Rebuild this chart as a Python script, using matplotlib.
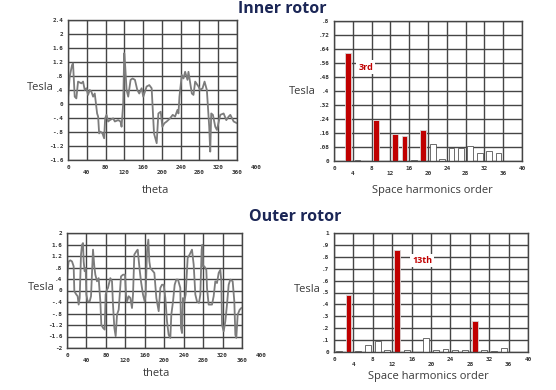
import matplotlib
matplotlib.use("Agg")
import matplotlib.pyplot as plt
import numpy as np

# ---- data ----
# inner rotor flux density waveform (deg, Tesla)
inner_theta = [0, 3.6, 5.7, 8.6, 10.7, 14.3, 17.8, 21.4, 28.5, 32.1, 35.6, 39.2, 42.8, 46.3,
               49.9, 53.5, 57.0, 62.0, 64.2, 66.3, 69.2, 73.4, 77.0, 79.1, 82.0, 85.5, 89.1,
               96.2, 99.8, 106.9, 111.9, 114.1, 117.6, 119.8, 121.9, 124.8, 128.3, 133.3,
               137.6, 142.6, 147.6, 151.8, 156.8, 160.4, 167.5, 173.2, 178.2, 183.2, 188.9,
               192.5, 197.5, 201.0, 205.3, 210.3, 217.4, 223.1, 228.1, 233.1, 235.3, 237.4,
               242.4, 246.0, 249.5, 254.5, 256.6, 263.8, 267.3, 270.9, 278.0, 281.6, 286.6,
               290.9, 295.8, 300.8, 303.0, 305.1, 308.7, 313.7, 317.2, 324.4, 331.5, 337.2,
               342.2, 345.8, 352.9, 360.0]
inner_b = [0.16, 0.78, 0.92, 1.11, 1.16, 0.21, 0.16, 0.64, 0.59, 0.64, 0.40, 0.45, 0.26, 0.40,
           0.35, 0.21, 0.30, -0.27, -0.36, -0.84, -0.79, -0.84, -0.98, -0.41, -0.31, -0.50,
           -0.46, -0.41, -0.50, -0.46, -0.50, -0.65, 0.02, 1.45, 1.07, 0.40, 0.21, 0.69, 0.73,
           0.69, 0.40, 0.30, 0.45, 0.21, 0.50, 0.54, 0.45, -0.84, -1.12, -0.27, -0.22, -0.65,
           -0.55, -0.50, -0.41, -0.31, -0.36, -0.17, -0.27, 0.21, 0.83, 0.73, 0.92, 0.69, 0.92,
           0.30, 0.26, 0.64, 0.50, 0.40, 0.45, 0.64, 0.40, -0.65, -1.36, -0.27, -0.31, -0.65,
           -0.74, -0.31, -0.27, -0.46, -0.36, -0.31, -0.50, -0.55]

# outer rotor flux density waveform (deg, Tesla)
outer_theta = [0, 1.4, 3.4, 6.9, 10.3, 13.7, 15.1, 19.2, 21.9, 24.0, 26.1, 28.8, 30.9, 32.9,
               34.3, 36.3, 38.4, 39.8, 42.5, 46.6, 49.4, 53.5, 56.2, 58.3, 61.7, 65.1, 68.6,
               70.6, 74.1, 77.5, 79.5, 82.3, 84.3, 89.1, 92.6, 94.6, 97.4, 100.1, 102.9, 106.3,
               111.1, 115.2, 119.3, 121.4, 123.4, 126.9, 130.3, 133.7, 135.8, 138.5, 142.6,
               145.4, 149.5, 152.2, 156.3, 159.8, 161.8, 164.6, 167.3, 169.4, 171.4, 176.9,
               179.7, 183.8, 188.6, 192.0, 195.4, 198.9, 202.3, 205.7, 209.1, 212.6, 214.6,
               218.1, 221.5, 224.9, 228.3, 233.1, 234.5, 236.6, 238.6, 241.4, 244.1, 248.2,
               252.3, 257.1, 260.6, 264.0, 267.4, 271.5, 274.3, 277.0, 278.4, 279.8, 282.5,
               286.6, 288.0, 291.4, 298.3, 301.7, 305.1, 308.6, 312.0, 315.4, 317.5, 318.9,
               322.3, 325.7, 329.1, 332.6, 336.0, 340.8, 344.2, 346.3, 348.3, 351.1, 355.2, 358.6]
outer_b = [0.32, 0.72, 1.01, 1.05, 1.01, 0.84, -0.03, -0.14, -0.20, -0.49, -0.26, 1.25, 1.59,
           1.65, 1.01, 0.67, 0.78, -0.14, -0.38, -0.38, -0.20, 1.42, 0.84, 0.55, 0.32, 0.43,
           -0.38, -1.19, -1.30, -1.36, -0.14, 0.03, 0.09, 0.43, 0.32, -0.49, -1.30, -1.59,
           -0.84, -0.67, 0.49, 0.55, 0.55, -0.14, -0.38, -0.20, -0.26, -0.61, -0.14, 1.25,
           1.36, 1.42, 0.72, 0.32, -0.14, -0.38, -0.14, 1.36, 1.77, 1.01, 0.78, 0.67, 0.61,
           -0.26, -0.72, 0.09, 0.20, 0.20, -0.26, -1.07, -1.54, -1.65, -0.84, -0.38, 0.20,
           0.38, 0.38, 0.09, -1.30, -1.48, -0.26, -0.38, -0.14, 1.13, 1.25, 1.42, 0.90, -0.14,
           -0.38, -0.43, -0.14, 1.42, 1.59, 0.84, 0.84, 0.72, 0.09, -0.49, -0.49, -0.20, 0.32,
           0.26, 0.61, 0.72, 0.32, -1.19, -1.42, -1.07, -0.49, 0.20, 0.38, 0.32, -0.38, -1.54,
           -1.65, -0.84, -0.67, -0.61]

# space harmonic spectra (odd orders)
orders = [1, 3, 5, 7, 9, 11, 13, 15, 17, 19, 21, 23, 25, 27, 29, 31, 33, 35]
inner_amp = [0.002, 0.615, 0.008, 0.002, 0.237, 0.002, 0.157, 0.143, 0.008, 0.176,
             0.10, 0.013, 0.072, 0.075, 0.085, 0.045, 0.055, 0.047]
inner_red = [3, 9, 13, 15, 19]
outer_amp = [0.005, 0.48, 0.005, 0.056, 0.09, 0.014, 0.86, 0.02, 0.003, 0.118,
             0.02, 0.028, 0.02, 0.02, 0.26, 0.015, 0.012, 0.034]
outer_red = [3, 13, 29]

theta_ticks = [0, 40, 80, 120, 160, 200, 240, 280, 320, 360]
inner_wave_yticks = [-1.6, -1.2, -0.8, -0.4, 0, 0.4, 0.8, 1.2, 1.6, 2, 2.4]
outer_wave_yticks = [-2, -1.6, -1.2, -0.8, -0.4, 0, 0.4, 0.8, 1.2, 1.6, 2]
order_ticks = [0, 4, 8, 12, 16, 20, 24, 28, 32, 36, 40]
inner_spec_yticks = [0, 0.08, 0.16, 0.24, 0.32, 0.4, 0.48, 0.56, 0.64, 0.72, 0.8]
outer_spec_yticks = [0, 0.1, 0.2, 0.3, 0.4, 0.5, 0.6, 0.7, 0.8, 0.9, 1.0]

# ---- styles ----
W, H = 556, 390
GRID_C = "#454545"
TICK_FONT = dict(family="DejaVu Sans Mono", weight="bold", size=4.3, color="#333333")
LABEL_FONT = dict(family="Open Sans", size=8, color="#3a3a3a")
TITLE_C = "#1b2656"
RED = "#c00000"
LINE_C = "#7c7c7c"
PAD = 3.5


def fmt(v):
    s = ("%g" % v)
    if s.startswith("0."):
        s = s[1:]
    elif s.startswith("-0."):
        s = "-" + s[2:]
    return s


def make_axes(fig, left, right, top, bottom):
    ax = fig.add_axes([left / W, 1 - bottom / H, (right - left) / W, (bottom - top) / H])
    ax.grid(True, color=GRID_C, lw=1.0)
    ax.set_axisbelow(True)
    for s in ax.spines.values():
        s.set_color(GRID_C)
        s.set_linewidth(1.0)
    ax.tick_params(length=0, pad=PAD)
    return ax


def set_ticks(ax, xt, yt, xlim, ylim):
    ax.set_xlim(*xlim)
    ax.set_ylim(*ylim)
    ax.set_xticks(xt)
    # staggered x labels: every other one pushed to a second row
    ax.set_xticklabels([fmt(v) if i % 2 == 0 else "\n" + fmt(v) for i, v in enumerate(xt)],
                       fontdict=TICK_FONT, linespacing=1.1)
    ax.set_yticks(yt)
    ax.set_yticklabels([fmt(v) for v in yt], fontdict=TICK_FONT)


fig = plt.figure(figsize=(W / 100, H / 100), dpi=100)

# inner rotor waveform
ax1 = make_axes(fig, 68, 237, 20, 160)
ax1.plot(inner_theta, inner_b, color=LINE_C, lw=1.3)
set_ticks(ax1, theta_ticks, inner_wave_yticks, (0, 360), (-1.6, 2.4))
ax1.annotate("400", xy=(400, 0), xycoords=("data", "axes fraction"), xytext=(0, -PAD),
             textcoords="offset points", ha="center", va="top", annotation_clip=False, **TICK_FONT)

# inner rotor spectrum
ax2 = make_axes(fig, 334, 522, 21, 161)
ax2.bar(orders, inner_amp, width=1.2,
        color=[RED if o in inner_red else "white" for o in orders],
        edgecolor=["#d8d8d8" if o in inner_red else "#555555" for o in orders], lw=0.6)
set_ticks(ax2, order_ticks, inner_spec_yticks, (0, 40), (0, 0.8))
ax2.text(6.8, 0.537, "3rd", color=RED, weight="bold", family="Open Sans", size=6.5,
         ha="center", va="center", bbox=dict(fc="white", ec="none", pad=1.5))

# outer rotor waveform
ax3 = make_axes(fig, 67, 242, 233, 348)
ax3.plot(outer_theta, outer_b, color=LINE_C, lw=1.3)
set_ticks(ax3, theta_ticks, outer_wave_yticks, (0, 360), (-2, 2))
ax3.annotate("400", xy=(400, 0), xycoords=("data", "axes fraction"), xytext=(0, -PAD),
             textcoords="offset points", ha="center", va="top", annotation_clip=False, **TICK_FONT)

# outer rotor spectrum
ax4 = make_axes(fig, 334, 528, 233, 352)
ax4.bar(orders, outer_amp, width=1.2,
        color=[RED if o in outer_red else "white" for o in orders],
        edgecolor=["#d8d8d8" if o in outer_red else "#555555" for o in orders], lw=0.6)
set_ticks(ax4, order_ticks, outer_spec_yticks, (0, 40), (0, 1.0))
ax4.text(18.2, 0.77, "13th", color=RED, weight="bold", family="Open Sans", size=6.5,
         ha="center", va="center", bbox=dict(fc="white", ec="none", pad=1.5))

# titles and axis labels in figure pixels
def ftext(x, y, s, **kw):
    fig.text(x / W, 1 - y / H, s, ha="center", va="center", **kw)

ftext(282, 9, "Inner rotor", family="Open Sans", weight="bold", size=11.5, color=TITLE_C)
ftext(295, 217, "Outer rotor", family="Open Sans", weight="bold", size=11.5, color=TITLE_C)
ftext(40, 88, "Tesla", **LABEL_FONT)
ftext(302, 91, "Tesla", **LABEL_FONT)
ftext(41, 287, "Tesla", **LABEL_FONT)
ftext(307, 290, "Tesla", **LABEL_FONT)
ftext(156, 190, "theta", **LABEL_FONT)
ftext(157, 373, "theta", **LABEL_FONT)
ftext(432, 190, "Space harmonics order", **LABEL_FONT)
ftext(428, 377, "Space harmonics order", **LABEL_FONT)

fig.savefig("out.png", dpi=100, facecolor="white")
